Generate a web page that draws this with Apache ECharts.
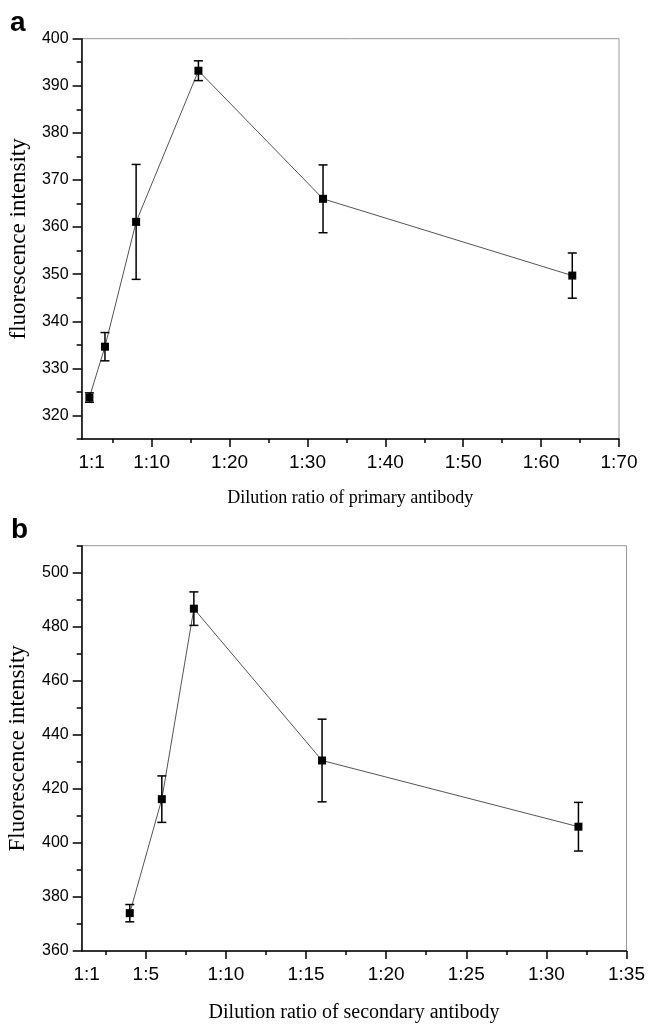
<!DOCTYPE html>
<html>
<head>
<meta charset="utf-8">
<script src="https://cdn.jsdelivr.net/npm/echarts@6/dist/echarts.min.js"></script>
<style>
html,body{margin:0;padding:0;background:#fff;}
#c{width:649px;height:1028px;}
</style>
</head>
<body>
<div id="c"></div>
<script>
// Panel a: primary antibody dilution
const xA = [2, 4, 8, 16, 32, 64];
const yA = [323.8, 334.6, 361.1, 393.2, 366.0, 349.7];
const errA = [1.0, 3.0, 12.2, 2.1, 7.2, 4.8];
const xLabelsA = [1, 10, 20, 30, 40, 50, 60, 70];
const xMajorA = [10, 20, 30, 40, 50, 60, 70];
const xMinorA = [5, 15, 25, 35, 45, 55, 65];
const yLabelsA = [320, 330, 340, 350, 360, 370, 380, 390, 400];
const yMinorA = [315, 325, 335, 345, 355, 365, 375, 385, 395];

// Panel b: secondary antibody dilution
const xB = [4, 6, 8, 16, 32];
const yB = [374.0, 416.2, 486.7, 430.5, 406.0];
const errB = [3.2, 8.6, 6.2, 15.3, 9.0];
const xLabelsB = [1, 5, 10, 15, 20, 25, 30, 35];
const xMajorB = [5, 10, 15, 20, 25, 30, 35];
const xMinorB = [2.5, 7.5, 12.5, 17.5, 22.5, 27.5, 32.5];
const yLabelsB = [360, 380, 400, 420, 440, 460, 480, 500];
const yMinorB = [370, 390, 410, 430, 450, 470, 490, 510];

const chart = echarts.init(document.getElementById('c'), null, {renderer: 'canvas'});

const sans = 'Liberation Sans, Arial, sans-serif';
const serif = 'Liberation Serif, Times New Roman, serif';

function xMain(grid, min, max, labels, major, name, nameGap, nameSize, firstPad) {
  return {
    type: 'value', gridIndex: grid, min: min, max: max, position: 'bottom', offset: 0,
    name: name, nameLocation: 'middle', nameGap: nameGap,
    nameTextStyle: {fontFamily: serif, fontSize: nameSize, color: '#000'},
    axisLine: {show: true, lineStyle: {color: '#000', width: 1.5}},
    axisTick: {show: true, inside: false, length: 8, customValues: major, lineStyle: {color: '#000', width: 1.5}},
    axisLabel: {
      show: true, customValues: labels, margin: 14,
      fontFamily: sans, fontSize: 19, color: '#000',
      formatter: function (v) { return v === 1 ? '{f|1:1}' : '1:' + v; },
      rich: {f: {fontFamily: sans, fontSize: 19, color: '#000', padding: [0, 0, 0, firstPad]}}
    },
    splitLine: {show: false}
  };
}
function xMinor(grid, min, max, minor) {
  return {
    type: 'value', gridIndex: grid, min: min, max: max, position: 'bottom', offset: 0,
    axisLine: {show: false},
    axisTick: {show: true, inside: false, length: 4, customValues: minor, lineStyle: {color: '#000', width: 1.5}},
    axisLabel: {show: false},
    splitLine: {show: false}
  };
}
function yMain(grid, min, max, labels, name, nameGap) {
  return {
    type: 'value', gridIndex: grid, min: min, max: max, position: 'left', offset: 0,
    name: name, nameLocation: 'middle', nameGap: nameGap,
    nameTextStyle: {fontFamily: serif, fontSize: 23, color: '#000'},
    axisLine: {show: true, lineStyle: {color: '#000', width: 1.5}},
    axisTick: {show: true, inside: false, length: 9, customValues: labels, lineStyle: {color: '#000', width: 1.5}},
    axisLabel: {show: true, customValues: labels, margin: 13, fontFamily: sans, fontSize: 16, color: '#000'},
    splitLine: {show: false}
  };
}
function yMinor(grid, min, max, minor) {
  return {
    type: 'value', gridIndex: grid, min: min, max: max, position: 'left', offset: 0,
    axisLine: {show: false},
    axisTick: {show: true, inside: false, length: 5, customValues: minor, lineStyle: {color: '#000', width: 1.5}},
    axisLabel: {show: false},
    splitLine: {show: false}
  };
}

function errRender(params, api) {
  const x = api.value(0), lo = api.value(1), hi = api.value(2);
  const p1 = api.coord([x, hi]);
  const p2 = api.coord([x, lo]);
  const w = 4.5;
  const st = {stroke: '#000', lineWidth: 1.5};
  return {type: 'group', children: [
    {type: 'line', shape: {x1: p1[0], y1: p1[1], x2: p2[0], y2: p2[1]}, style: st},
    {type: 'line', shape: {x1: p1[0] - w, y1: p1[1], x2: p1[0] + w, y2: p1[1]}, style: st},
    {type: 'line', shape: {x1: p2[0] - w, y1: p2[1], x2: p2[0] + w, y2: p2[1]}, style: st}
  ]};
}

const option = {
  animation: false,
  backgroundColor: '#fff',
  grid: [
    {left: 81.6, top: 38.7, right: 30, height: 400.3, show: true, borderColor: '#999', borderWidth: 1, containLabel: false, outerBoundsMode: 'none'},
    {left: 81.7, top: 545.7, right: 22.5, height: 405.3, show: true, borderColor: '#999', borderWidth: 1, containLabel: false, outerBoundsMode: 'none'}
  ],
  graphic: [
    {type: 'text', left: 10, top: 9, style: {text: 'a', fontFamily: sans, fontWeight: 'bold', fontSize: 28, fill: '#000'}},
    {type: 'text', left: 11, top: 516, style: {text: 'b', fontFamily: sans, fontWeight: 'bold', fontSize: 28, fill: '#000'}}
  ],
  xAxis: [
    xMain(0, 1, 70, xLabelsA, xMajorA, 'Dilution ratio of primary antibody', 50, 18, 20),
    xMinor(0, 1, 70, xMinorA),
    xMain(1, 1, 35, xLabelsB, xMajorB, 'Dilution ratio of secondary antibody', 52, 20, 10),
    xMinor(1, 1, 35, xMinorB)
  ],
  yAxis: [
    yMain(0, 315, 400, yLabelsA, 'fluorescence intensity', 51),
    yMinor(0, 315, 400, yMinorA),
    yMain(1, 360, 510, yLabelsB, 'Fluorescence intensity', 52),
    yMinor(1, 360, 510, yMinorB)
  ],
  series: [
    {
      type: 'line', xAxisIndex: 0, yAxisIndex: 0,
      data: xA.map((x, i) => [x, yA[i]]),
      symbol: 'rect', symbolSize: 8, itemStyle: {color: '#000'},
      lineStyle: {color: '#555', width: 1}, z: 3
    },
    {
      type: 'custom', xAxisIndex: 0, yAxisIndex: 0, renderItem: errRender,
      encode: {x: 0, y: [1, 2]},
      data: xA.map((x, i) => [x, yA[i] - errA[i], yA[i] + errA[i]]), z: 4
    },
    {
      type: 'line', xAxisIndex: 2, yAxisIndex: 2,
      data: xB.map((x, i) => [x, yB[i]]),
      symbol: 'rect', symbolSize: 8, itemStyle: {color: '#000'},
      lineStyle: {color: '#555', width: 1}, z: 3
    },
    {
      type: 'custom', xAxisIndex: 2, yAxisIndex: 2, renderItem: errRender,
      encode: {x: 0, y: [1, 2]},
      data: xB.map((x, i) => [x, yB[i] - errB[i], yB[i] + errB[i]]), z: 4
    }
  ]
};
chart.setOption(option);
</script>
</body>
</html>
